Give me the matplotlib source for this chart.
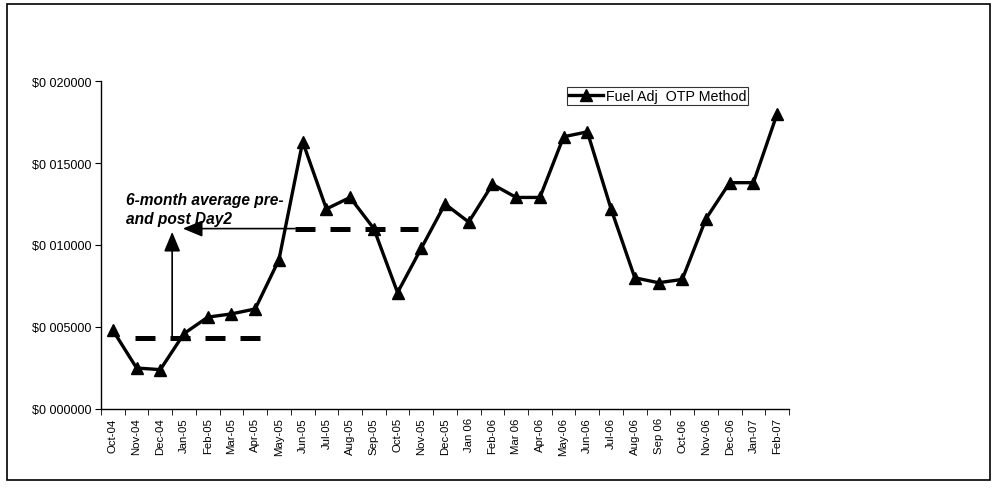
import matplotlib
matplotlib.use("Agg")
import matplotlib.pyplot as plt
from matplotlib.patches import Rectangle

months = ["Oct-04", "Nov-04", "Dec-04", "Jan-05", "Feb-05", "Mar-05", "Apr-05", "May-05",
          "Jun-05", "Jul-05", "Aug-05", "Sep-05", "Oct-05", "Nov-05", "Dec-05", "Jan 06",
          "Feb-06", "Mar 06", "Apr-06", "May-06", "Jun-06", "Jul-06", "Aug-06", "Sep 06",
          "Oct-06", "Nov-06", "Dec-06", "Jan-07", "Feb-07"]
fuel_adj = [0.0048, 0.0025, 0.0024, 0.0046, 0.0056, 0.0058, 0.0061, 0.0091,
            0.0163, 0.0122, 0.0129, 0.0110, 0.0071, 0.0098, 0.0125, 0.0114,
            0.0137, 0.0129, 0.0129, 0.0166, 0.0169, 0.0122, 0.0080, 0.0077,
            0.0079, 0.0116, 0.0138, 0.0138, 0.0180]
y_ticks = [0.0, 0.005, 0.010, 0.015, 0.020]
y_tick_labels = ["$0 000000", "$0 005000", "$0 010000", "$0 015000", "$0 020000"]

pre_avg = 0.0043
pre_span = [0.93, 6.29]
post_avg = 0.0110
post_span = [7.68, 12.87]
arrow_x = 2.5
arrow_left_tip = 2.95
arrow_up_tip = 0.0108

plt.rcParams['font.family'] = ['Liberation Sans', 'DejaVu Sans']

fig = plt.figure(figsize=(9.94, 4.89), dpi=100)
ax = fig.add_axes([101 / 994, 1 - 410 / 489, 688 / 994, (410 - 82) / 489])

x = list(range(len(months)))
ax.plot(x, fuel_adj, color='black', lw=2.4, marker='^', markersize=8.5,
        label='Fuel Adj  OTP Method', zorder=4)

# average dashed lines
ax.plot(pre_span, [pre_avg, pre_avg], color='black', lw=3.6, dashes=(4.0, 3.0),
        solid_capstyle='butt', dash_capstyle='butt', zorder=3)
ax.plot(post_span, [post_avg, post_avg], color='black', lw=3.6, dashes=(4.0, 3.0),
        solid_capstyle='butt', dash_capstyle='butt', zorder=3)

# arrows
ax.annotate('', xy=(arrow_x, arrow_up_tip), xytext=(arrow_x, pre_avg),
            arrowprops=dict(arrowstyle='-|>,head_length=1.2,head_width=0.5',
                            color='black', lw=1.2, shrinkA=0, shrinkB=0), zorder=5)
ax.annotate('', xy=(arrow_left_tip, post_avg), xytext=(post_span[0], post_avg),
            arrowprops=dict(arrowstyle='-|>,head_length=1.2,head_width=0.5',
                            color='black', lw=1.2, shrinkA=0, shrinkB=0), zorder=5)

ax.text(0.55, 0.0122, "6-month average pre-\nand post Day2", fontsize=11.2,
        fontweight='bold', fontstyle='italic', ha='left', va='center',
        linespacing=1.3, zorder=6)

ax.set_xlim(-0.5, len(months) - 0.5)
ax.set_ylim(0, 0.02)
ax.set_yticks(y_ticks)
ax.set_yticklabels(y_tick_labels, fontsize=9)
ax.set_xticks(x)
ax.set_xticklabels(months, rotation=90, fontsize=8.2)
ax.set_xticks([i - 0.5 for i in range(len(months) + 1)], minor=True)
ax.tick_params(axis='x', which='major', length=0, pad=6)
ax.tick_params(axis='x', which='minor', length=4, direction='out')
ax.tick_params(axis='y', which='major', length=4, direction='out', pad=3)
for s in ['top', 'right']:
    ax.spines[s].set_visible(False)
for s in ['left', 'bottom']:
    ax.spines[s].set_linewidth(1.0)

leg = ax.legend(loc='upper left', bbox_to_anchor=((567 - 101) / 688, (410 - 88) / 328),
                fontsize=10.3, frameon=True, fancybox=False, edgecolor='black',
                handlelength=2.4, borderpad=0.15, handletextpad=0.15, borderaxespad=0)
leg.get_frame().set_linewidth(0.8)

fig.patches.append(Rectangle((7 / 994, 1 - 481 / 489), 983 / 994, 476 / 489,
                             transform=fig.transFigure, fill=False, edgecolor='black',
                             lw=1.2))

fig.savefig("out.png", dpi=100)
